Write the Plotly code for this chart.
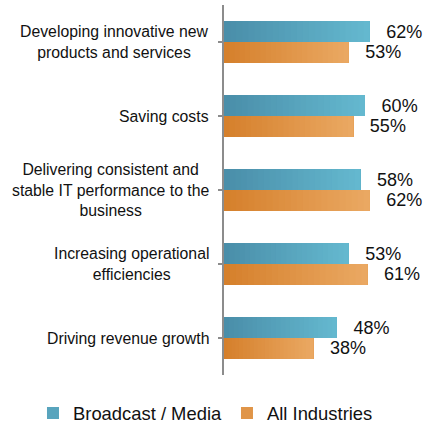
import plotly.graph_objects as go

# Survey: top IT priorities, share of respondents
categories = [
    "Developing innovative new<br>products and services",
    "Saving costs",
    "Delivering consistent and<br>stable IT performance to the<br>business",
    "Increasing operational<br>efficiencies",
    "Driving revenue growth",
]
broadcast_media = [62, 60, 58, 53, 48]
all_industries = [53, 55, 62, 61, 38]

series = [
    ("Broadcast / Media", broadcast_media, (74, 142, 169), (100, 184, 207)),
    ("All Industries", all_industries, (213, 128, 44), (234, 168, 98)),
]

N_STEPS = 24  # overlapping layers shade each bar from dark (left) to light (right)


def blend(c0, c1, t):
    return "rgb(%d,%d,%d)" % tuple(round(a + (b - a) * t) for a, b in zip(c0, c1))


fig = go.Figure()
keys = list(range(len(categories)))

for name, values, c_dark, c_light in series:
    for k in range(N_STEPS):
        t = k / (N_STEPS - 1)
        last = k == N_STEPS - 1
        # every layer runs from its start to the full bar value, so layers overlap without seams
        fig.add_trace(go.Bar(
            y=keys,
            x=[v * (N_STEPS - k) / N_STEPS for v in values],
            base=[v * k / N_STEPS for v in values],
            orientation="h",
            offsetgroup=name,
            name=name,
            showlegend=(k == N_STEPS // 2),
            marker=dict(color=blend(c_dark, c_light, t), line=dict(width=0)),
            text=[f"\u00a0\u00a0\u2009{v}%" for v in values] if last else None,
            textposition="outside" if last else "none",
            textfont=dict(family="Liberation Sans, Arial, sans-serif", size=18, color="#111111"),
            constraintext="none",
            cliponaxis=False,
            hoverinfo="skip",
        ))

# centred multi-line category labels to the left of the axis
for i, label in enumerate(categories):
    fig.add_annotation(
        x=0, xref="paper", y=i, yref="y",
        text=label, showarrow=False,
        xanchor="right", yanchor="middle", align="center",
        xshift=-13,
        font=dict(family="Liberation Sans, Arial, sans-serif", size=15.8, color="#111111"),
    )

fig.update_layout(
    width=423, height=425,
    margin=dict(l=224, r=11, t=5, b=50, autoexpand=False),
    barmode="group",
    bargap=0.435,
    bargroupgap=0,
    plot_bgcolor="white",
    paper_bgcolor="white",
    font=dict(family="Liberation Sans, Arial, sans-serif", color="#111111"),
    legend=dict(
        orientation="h",
        xref="paper", yref="paper",
        x=-1.016, xanchor="left",
        y=-0.103, yanchor="middle",
        font=dict(size=18.4, color="#111111"),
        traceorder="normal",
    ),
    xaxis=dict(range=[0, 80], visible=False),
    yaxis=dict(
        range=[4.5, -0.5],
        tickvals=keys,
        showticklabels=False,
        showgrid=False,
        zeroline=False,
        showline=True,
        linecolor="#8c8c8c",
        linewidth=1.5,
        ticks="outside",
        tickson="boundaries",
        ticklen=4,
        tickcolor="#8c8c8c",
        tickwidth=1.5,
    ),
)

fig.write_html("out.html")
